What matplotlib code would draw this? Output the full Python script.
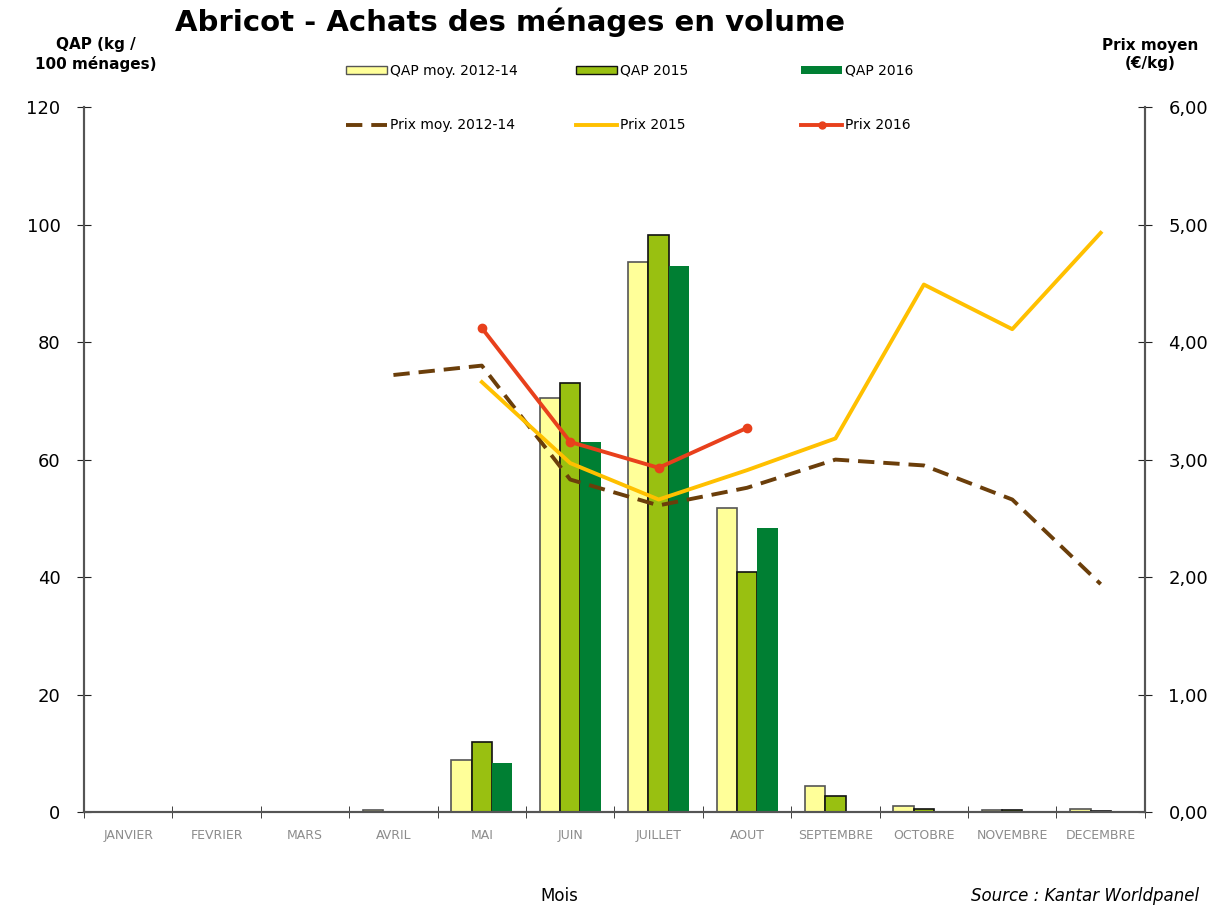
import numpy as np
import matplotlib.pyplot as plt
from matplotlib.lines import Line2D
from matplotlib.patches import Patch

months = ['JANVIER', 'FEVRIER', 'MARS', 'AVRIL', 'MAI', 'JUIN', 'JUILLET',
          'AOUT', 'SEPTEMBRE', 'OCTOBRE', 'NOVEMBRE', 'DECEMBRE']

# QAP (kg / 100 menages)
qap_moy = [0, 0, 0, 0.3, 8.9, 70.5, 93.6, 51.7, 4.4, 1.0, 0.3, 0.5]
qap_2015 = [0, 0, 0, 0, 11.9, 73.0, 98.2, 40.9, 2.7, 0.5, 0.3, 0.2]
qap_2016 = [0, 0, 0, 0, 8.3, 63.0, 92.9, 48.3, 0, 0, 0, 0]

# Prix moyen (EUR/kg), None = pas de valeur
prix_moy = [None, None, None, 3.72, 3.80, 2.83, 2.61, 2.76, 3.00, 2.95, 2.66, 1.94]
prix_2015 = [None, None, None, None, 3.66, 2.97, 2.66, 2.91, 3.18, 4.49, 4.11, 4.93]
prix_2016 = [None, None, None, None, 4.12, 3.15, 2.93, 3.27, None, None, None, None]


def to_arr(vals):
    return np.array([np.nan if v is None else v for v in vals], dtype=float)


DASH = (0, (4.2, 2.3))

fig = plt.figure(figsize=(12.3, 9.08), dpi=100)
ax = fig.add_axes([0.0683, 0.1057, 0.8625, 0.7763])
ax2 = ax.twinx()

x = np.arange(len(months))
w = 0.23
ax.bar(x - w, qap_moy, w, color='#FFFF99', edgecolor='#555555', linewidth=1.2, zorder=2)
ax.bar(x, qap_2015, w, color='#99C011', edgecolor='#111111', linewidth=1.2, zorder=2)
ax.bar(x + w, qap_2016, w, color='#007F33', linewidth=0, zorder=2)

ax2.plot(x, to_arr(prix_moy), color='#6B3E0A', lw=2.8, ls=DASH, zorder=3)
ax2.plot(x, to_arr(prix_2015), color='#FFC000', lw=2.8, zorder=4)
ax2.plot(x, to_arr(prix_2016), color='#E8401C', lw=2.8, marker='o', ms=6, zorder=5)

ax.set_xlim(-0.5, 11.5)
ax.set_ylim(0, 120)
ax2.set_ylim(0, 6)
ax.set_yticks(np.arange(0, 121, 20))
ax2.set_yticks(np.arange(0, 6.01, 1))
ax2.set_yticklabels([f'{v:.2f}'.replace('.', ',') for v in np.arange(0, 6.01, 1)])

ax.set_xticks(x)
ax.set_xticklabels(months, fontsize=9, color='#8c8c8c')
ax.set_xticks(np.arange(-0.5, 12, 1), minor=True)
ax.tick_params(axis='x', which='major', length=0, pad=12)
ax.tick_params(axis='x', which='minor', length=8, direction='inout', color='#222222')
ax.tick_params(axis='y', length=10, direction='inout', labelsize=13, pad=12, color='#222222')
ax2.tick_params(axis='y', length=10, direction='inout', labelsize=13, pad=12, color='#222222')

for a in (ax, ax2):
    a.spines['top'].set_visible(False)
    for s in ('left', 'right', 'bottom'):
        a.spines[s].set_color('#555555')
        a.spines[s].set_linewidth(1.5)

fig.text(0.415, 0.975, 'Abricot - Achats des ménages en volume', ha='center', va='center',
         fontsize=21, fontweight='bold')
fig.text(0.078, 0.94, 'QAP (kg /\n100 ménages)', ha='center', va='center',
         fontsize=11, fontweight='bold', linespacing=1.3)
fig.text(0.935, 0.94, 'Prix moyen\n(€/kg)', ha='center', va='center',
         fontsize=11, fontweight='bold', linespacing=1.3)
fig.text(0.455, 0.003, 'Mois', ha='center', va='bottom', fontsize=12)
fig.text(0.975, 0.003, 'Source : Kantar Worldpanel', ha='right', va='bottom',
         fontsize=12, style='italic')

# legend entries: (handle, label, x, y) in figure fraction
entries = [
    (Patch(facecolor='#FFFF99', edgecolor='#555555'), 'QAP moy. 2012-14', 0.281, 0.922),
    (Patch(facecolor='#99C011', edgecolor='#111111'), 'QAP 2015', 0.468, 0.922),
    (Patch(facecolor='#007F33'), 'QAP 2016', 0.651, 0.922),
    (Line2D([], [], color='#6B3E0A', lw=2.8, ls=DASH), 'Prix moy. 2012-14', 0.281, 0.862),
    (Line2D([], [], color='#FFC000', lw=2.8), 'Prix 2015', 0.468, 0.862),
    (Line2D([], [], color='#E8401C', lw=2.8, marker='o', ms=5), 'Prix 2016', 0.651, 0.862),
]
for h, lab, lx, ly in entries:
    fig.legend([h], [lab], loc='center left', bbox_to_anchor=(lx, ly), frameon=False,
               fontsize=10, handlelength=3, handleheight=0.6, handletextpad=0.2,
               borderpad=0, borderaxespad=0)

fig.savefig('out.png', dpi=100)
